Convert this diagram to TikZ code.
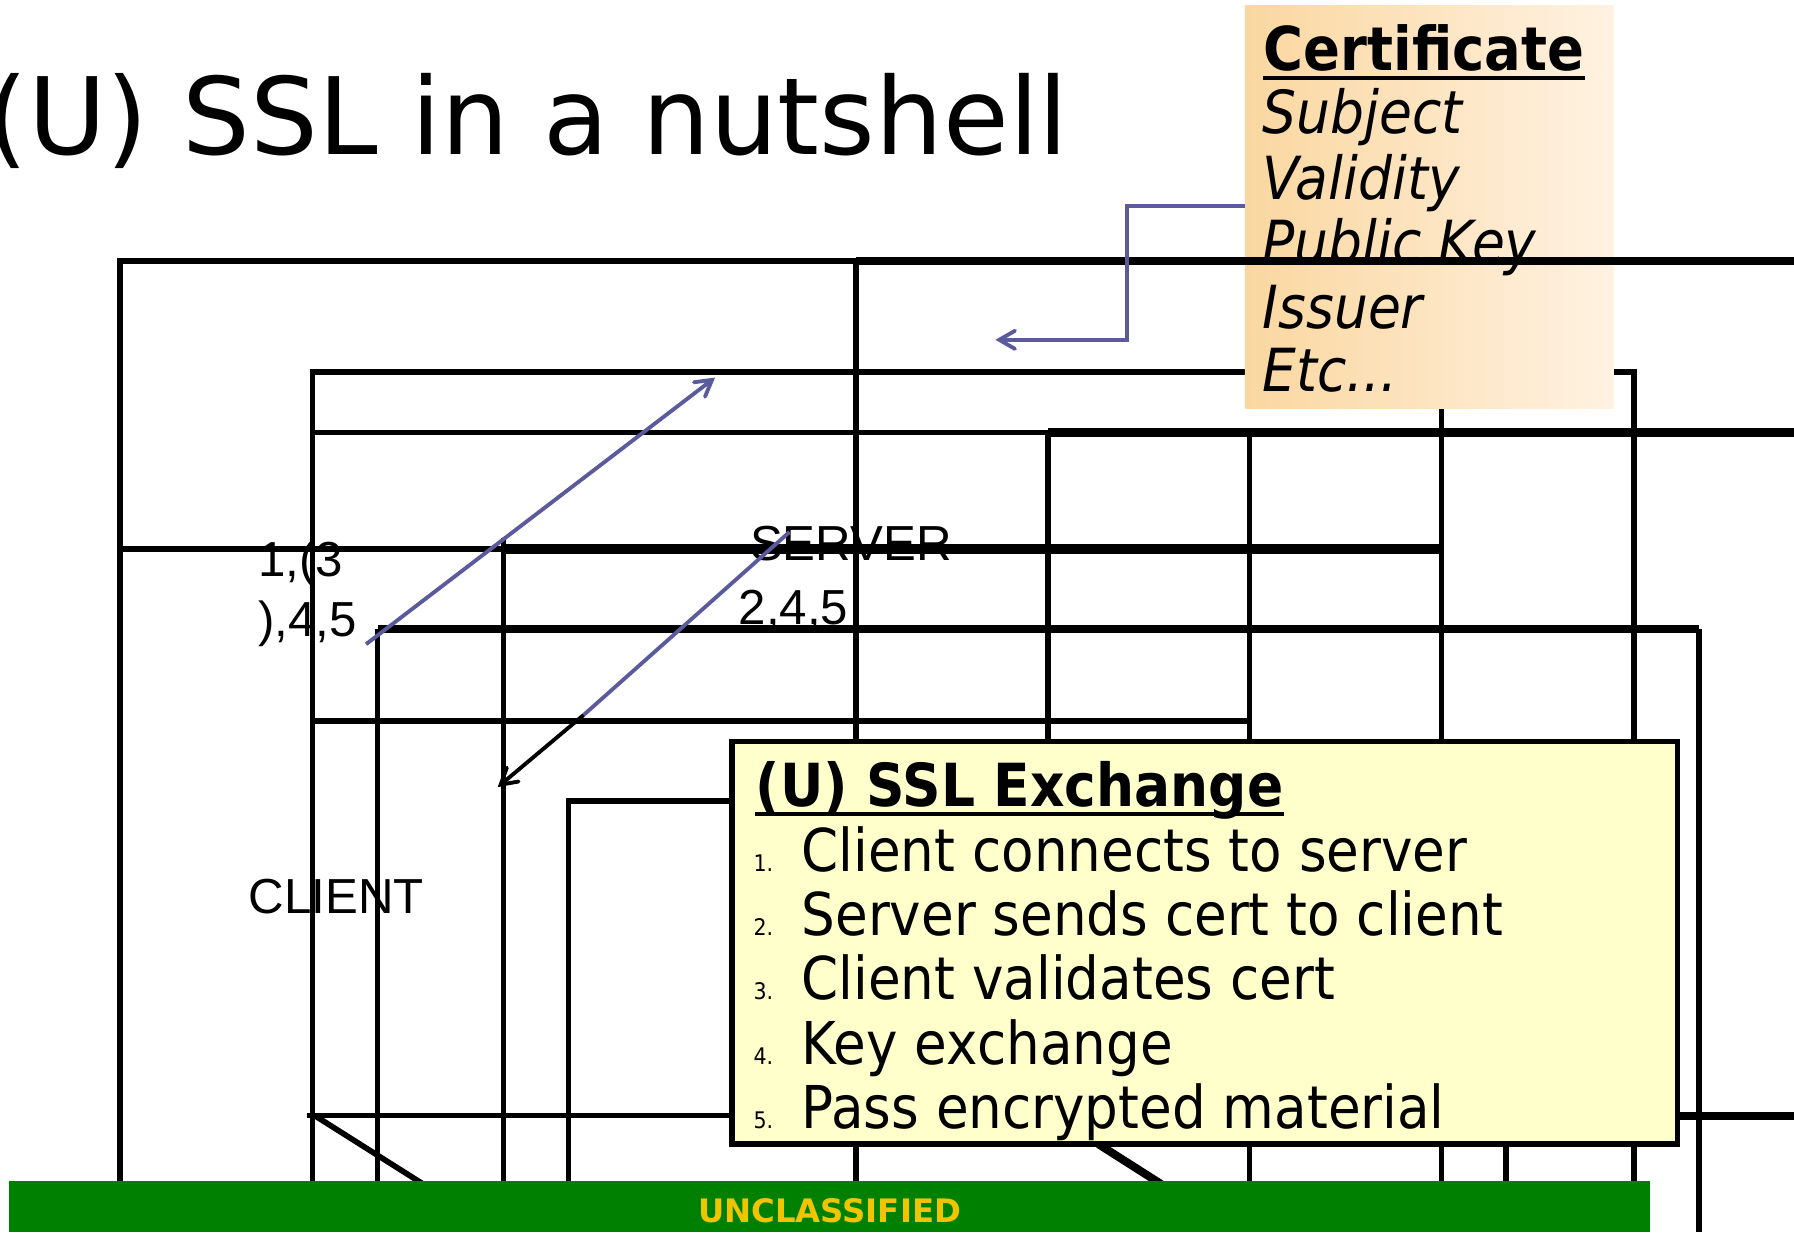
\documentclass[tikz,border=0pt]{standalone}
\usepackage{fontspec}
\setmainfont{DejaVu Sans}
\newfontfamily\condfont[FakeStretch=0.9]{DejaVu Sans}
\newfontfamily\arialfont{Liberation Sans}
\usetikzlibrary{arrows,positioning}

\definecolor{slateblue}{HTML}{5A5A9C}
\definecolor{certleft}{HTML}{FAD7A0}
\definecolor{certright}{HTML}{FFF2E2}
\definecolor{notepaper}{HTML}{FFFFCC}
\definecolor{bannergreen}{HTML}{008000}
\definecolor{bannertext}{HTML}{F0C400}

\begin{document}
\begin{tikzpicture}[x=0.11441mm,y=-0.11441mm,>=angle 60,
	wire/.style={line width=1.6pt},
	heavywire/.style={line width=2.3pt},
	msg/.style={slateblue,line width=1.1pt},
	txt/.style={anchor=base west,inner sep=0pt},
	certtxt/.style={txt,font=\condfont\fontsize{16.9}{20}\selectfont\itshape},
	steptxt/.style={txt,font=\condfont\fontsize{16.8}{20}\selectfont},
	numtxt/.style={txt,font=\condfont\fontsize{6.5}{8}\selectfont},
	lbl/.style={txt,font=\arialfont\fontsize{14}{17}\selectfont}]
	\useasboundingbox (0,0) rectangle (1568,1077);
	
	% the broken grid
	\draw[wire] (105,1035) -- (105,228) -- (748,228);
	\draw[wire] (748,228) -- (748,1035);
	\draw[wire] (273,1035) -- (273,325) -- (1428,325) -- (1428,1077);
	\draw[wire] (273,378) -- (916,378);
	\draw[heavywire] (916,378) -- (1568,378);
	\draw[wire] (916,378) -- (916,700);
	\draw[wire] (1092,378) -- (1092,1035);
	\draw[wire] (1260,330) -- (1260,1035);
	\draw[wire] (1316,990) -- (1316,1035);
	\draw[wire] (105,480) -- (440,480);
	\draw[line width=2.9pt] (440,480) -- (1260,480);
	\draw[wire] (440,470) -- (440,1035);
	\draw[wire] (330,1035) -- (330,550);
	\draw[heavywire] (330,550) -- (1485,550);
	\draw[wire] (1485,550) -- (1485,1077);
	\draw[wire] (273,630) -- (1092,630);
	\draw[wire] (497,1035) -- (497,700) -- (640,700);
	\draw[wire] (268,975) -- (640,975);
	\draw[heavywire] (1466,975) -- (1568,975);
	\draw[wire] (275,975) -- (370,1035);
	\draw[heavywire] (960,1000) -- (1015,1035);
	
	% certificate note
	\shade[left color=certleft,right color=certright] (1088,5) rectangle (1410,357);
	\node[txt,font=\condfont\fontsize{17.2}{20}\selectfont\bfseries] (cert) at (1104,62) {Certificate};
	\draw[line width=1.1pt] ([yshift=-2pt]cert.base west) -- ([yshift=-2pt]cert.base east);
	\node[certtxt] (subject) at (1103,117) {Subject};
	\node[certtxt] (validity) at (1103,174) {Validity};
	\node[certtxt] (pubkey) at (1103,230) {Public Key};
	\node[certtxt] (issuer) at (1103,287) {Issuer};
	\node[certtxt] (etc) at (1103,342) {Etc...};
	\draw[heavywire] (748,228) -- (1568,228);
	
	% labels
	\node[txt,font=\fontsize{30.4}{36}\selectfont] (title) at (-12,135) {(U) SSL in a nutshell};
	\node[lbl] (clientnums) at (225,504) {1,(3};
	\node[lbl] (clientnumsb) at (225,556) {),4,5};
	\node[lbl] (server) at (655,490) {SERVER};
	\node[lbl] (servernums) at (645,546) {2,4,5};
	\node[lbl] (client) at (217,798) {CLIENT};
	
	% messages
	\coordinate (hello) at (320,563);
	\coordinate (hellotip) at (625,330);
	\coordinate (reply) at (690,465);
	\coordinate (replymid) at (510,625);
	\coordinate (replytip) at (435,688);
	\coordinate (certout) at (1088,180);
	\coordinate (certbend) at (985,297);
	\coordinate (certtip) at (870,297);
	\draw[msg,->] (hello) -- (hellotip);
	\draw[msg] (reply) -- (replymid);
	\draw[line width=1.1pt,->] (replymid) -- (replytip);
	\draw[msg,->] (certout) -| (certbend) -- (certtip);
	
	% exchange note
	\draw[wire,fill=notepaper] (640,648) rectangle (1466,1000);
	\node[txt,font=\condfont\fontsize{16.9}{20}\selectfont\bfseries] (exch) at (660,705) {(U) SSL Exchange};
	\draw[line width=1.1pt] ([yshift=-2pt]exch.base west) -- ([yshift=-2pt]exch.base east);
	\node[numtxt] (n1) at (658,762) {1.};
	\node[steptxt] (s1) at (700,762) {Client connects to server};
	\node[numtxt] (n2) at (658,818) {2.};
	\node[steptxt] (s2) at (700,818) {Server sends cert to client};
	\node[numtxt] (n3) at (658,874) {3.};
	\node[steptxt] (s3) at (700,874) {Client validates cert};
	\node[numtxt] (n4) at (658,930) {4.};
	\node[steptxt] (s4) at (700,930) {Key exchange};
	\node[numtxt] (n5) at (658,986) {5.};
	\node[steptxt] (s5) at (700,986) {Pass encrypted material};
	
	% banner
	\fill[bannergreen] (8,1032) rectangle (1442,1077);
	\node[inner sep=0pt,font=\fontsize{9.2}{11}\selectfont\bfseries,text=bannertext] (banner) at (725,1058) {UNCLASSIFIED};
\end{tikzpicture}
\end{document}
